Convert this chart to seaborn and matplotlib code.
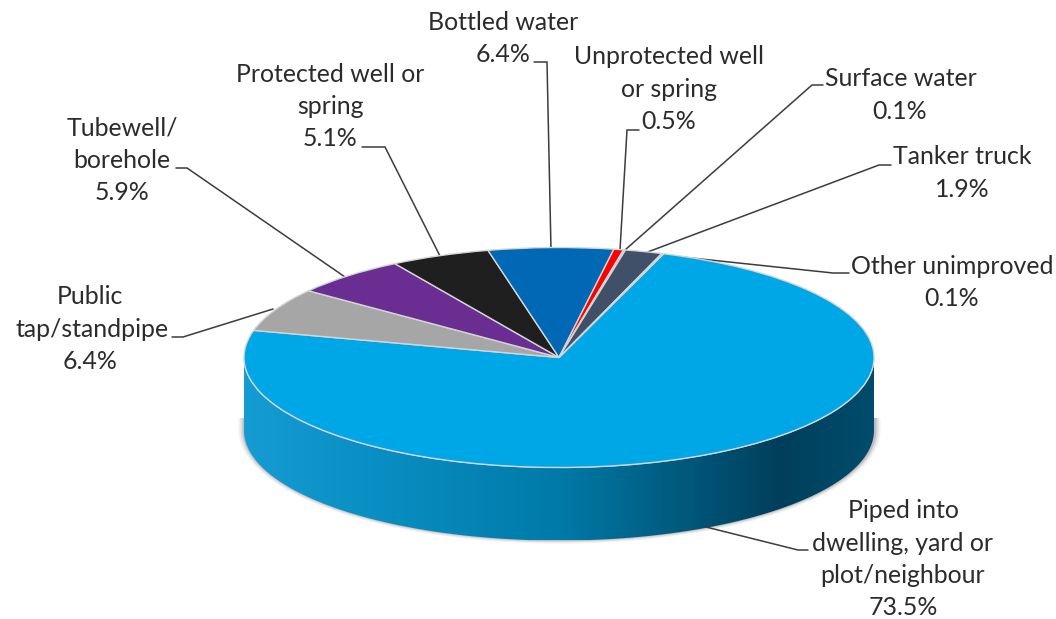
import numpy as np
import matplotlib
matplotlib.use("Agg")
import matplotlib.pyplot as plt
from matplotlib.colors import LinearSegmentedColormap
from matplotlib.patches import Polygon
import seaborn as sns

# --- data ---
categories = ["Piped into\ndwelling, yard or\nplot/neighbour", "Public\ntap/standpipe", "Tubewell/\nborehole",
              "Protected well or\nspring", "Bottled water", "Unprotected well\nor spring",
              "Surface water", "Tanker truck", "Other unimproved"]
values = [73.5, 6.4, 5.9, 5.1, 6.4, 0.5, 0.1, 1.9, 0.1]
slice_colors = ["#00A7E6", "#A6A6A6", "#6A2E93", "#1F1F1F", "#0068B5", "#FF0000", "#9AA3AE", "#3F5068", "#8A8A8A"]

# --- layout, in figure pixels ---
W, H = 1056, 619
CX, CY, RX, RY, DEPTH = 559, 357.5, 315, 110, 73
START_ANGLE = 70.6
label_x = [[903, 903, 903, 903], [90, 92, 90], [122, 122, 122], [330, 330, 330], [503, 503],
           [669, 669, 669], [901, 900], [962, 962], [952, 952]]
label_y = [511, 297, 128, 74, 22, 57, 79, 157, 266]
LINE_STEP = 32.2
leaders = [
    [(706, 527), (798, 550), (808, 550)],
    [(273, 309), (183, 337), (172, 337)],
    [(345, 277), (187, 168), (176, 168)],
    [(440, 256), (385, 147), (362, 147)],
    [(551, 250), (547, 62), (534, 62)],
    [(620, 250), (627, 130), (639, 130)],
    [(625, 250), (812, 85), (823, 85)],
    [(645, 253), (879, 165), (891, 165)],
    [(663, 255), (833, 273), (849, 273)],
]
side_stops = [(0.0, "#159CD2"), (0.2, "#0A8FC4"), (0.5, "#007AA8"), (0.68, "#005C80"),
              (0.85, "#003F5C"), (1.0, "#004C6C")]

sns.set_theme(style="white")
plt.rcParams["font.family"] = ["Lato", "DejaVu Sans"]
palette = sns.color_palette(slice_colors)

fig = plt.figure(figsize=(W / 100, H / 100), dpi=100, facecolor="white")
ax = fig.add_axes([0, 0, 1, 1])
ax.set_axis_off()

# side wall of the disc
t = np.linspace(0, np.pi, 300)
top_x = CX + RX * np.cos(t)
top_y = CY + RY * np.sin(t)
wall = np.r_[np.c_[top_x, top_y], np.c_[top_x[::-1], top_y[::-1] + DEPTH]]

for grow, alpha in [(6, 0.10), (4, 0.18), (2, 0.32)]:
    sx = CX + (RX + grow) * np.cos(t)
    sy = CY + 72 + (RY + grow * 0.6) * np.sin(t)
    mask = sy > CY + 50
    ax.fill_between(sx[mask], CY + 60, sy[mask], color="#808080", alpha=alpha, lw=0, zorder=1)

cmap = LinearSegmentedColormap.from_list("side", side_stops)
grad = np.linspace(0, 1, 512)[None, :]
img = ax.imshow(grad, extent=(CX - RX, CX + RX, CY + RY + DEPTH, CY), aspect="auto", cmap=cmap, zorder=2)
img.set_clip_path(Polygon(wall, closed=True, transform=ax.transData))
ax.plot(top_x, top_y, color="#BFE6F7", lw=0.8, zorder=2.5)

# leader lines
for pts in leaders:
    xs, ys = zip(*pts)
    ax.plot(xs, ys, color="#3C3C3C", lw=1.1, zorder=3, solid_joinstyle="miter")

# labels
for cat, val, xs, y0 in zip(categories, values, label_x, label_y):
    lines = cat.split("\n") + [f"{val:.1f}%"]
    for i, (line, x) in enumerate(zip(lines, xs)):
        ax.text(x, y0 + i * LINE_STEP, line, ha="center", va="center", fontsize=17.9, color="#2B2B2B", zorder=5)

ax.set_xlim(0, W)
ax.set_ylim(H, 0)

# top face: a pie stretched into the ellipse
pie_ax = fig.add_axes([(CX - RX) / W, 1 - (CY + RY) / H, 2 * RX / W, 2 * RY / H], zorder=4)
pie_ax.patch.set_alpha(0)
pie_ax.pie(values, colors=palette, startangle=START_ANGLE, counterclock=False, radius=1,
           wedgeprops=dict(edgecolor="#D5D5D5", linewidth=1.0, clip_on=False))
pie_ax.set_aspect("auto")
pie_ax.set_xlim(-1, 1)
pie_ax.set_ylim(-1, 1)
pie_ax.set_axis_off()

fig.savefig("out.png", dpi=100)
